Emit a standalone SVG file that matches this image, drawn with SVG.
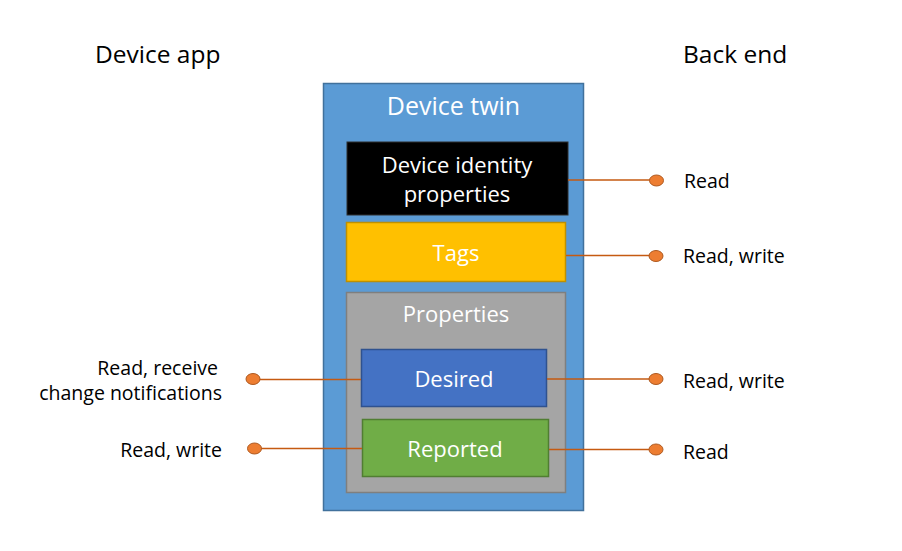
<svg xmlns="http://www.w3.org/2000/svg" width="902" height="551" viewBox="0 0 902 551">
<style>
text{font-family:"Open Sans","Noto Sans","Liberation Sans",sans-serif;}
.h{font-size:24.5px;fill:#000;}
.w{fill:#fff;text-anchor:middle;dominant-baseline:central;}
.lbl{font-size:19.5px;fill:#000;dominant-baseline:central;}
.ln{stroke:#C55A11;stroke-width:1.5;fill:none;}
.dot{fill:#ED7D31;stroke:#AE5A21;stroke-width:1;}
</style>
<rect width="902" height="551" fill="#fff"/>
<text class="h" x="95" y="63">Device app</text>
<text class="h" x="683" y="63">Back end</text>
<g id="device-twin">
<rect x="323.5" y="83.5" width="260" height="427" fill="#5B9BD5" stroke="#41719C" stroke-width="1.5"/>
<text class="w" x="453.5" y="105" font-size="25">Device twin</text>
</g>
<g id="identity">
<rect x="347" y="142" width="221" height="73" fill="#000" stroke="#2F2F2F"/>
<text class="w" x="457" y="164" font-size="22">Device identity</text>
<text class="w" x="457" y="193" font-size="22">properties</text>
</g>
<g id="tags">
<rect x="346.5" y="222.5" width="219" height="59" fill="#FFC000" stroke="#BF9000" stroke-width="1.5"/>
<text class="w" x="456" y="252" font-size="22">Tags</text>
</g>
<g id="properties">
<rect x="346.5" y="292.5" width="219" height="200" fill="#A5A5A5" stroke="#7F7F7F" stroke-width="1.5"/>
<text class="w" x="456" y="313" font-size="22">Properties</text>
</g>
<g id="desired">
<rect x="361.5" y="349.5" width="185" height="57" fill="#4472C4" stroke="#2F528F" stroke-width="1.5"/>
<text class="w" x="454" y="378" font-size="22">Desired</text>
</g>
<g id="reported">
<rect x="362.5" y="419.5" width="186" height="57" fill="#70AD47" stroke="#507E32" stroke-width="1.5"/>
<text class="w" x="455" y="448" font-size="22">Reported</text>
</g>
<g id="connectors">
<line class="ln" x1="568" y1="180" x2="650" y2="180"/>
<ellipse class="dot" cx="656.5" cy="180.5" rx="7" ry="5.5"/>
<line class="ln" x1="566" y1="255.5" x2="650" y2="255.5"/>
<ellipse class="dot" cx="656" cy="256" rx="7" ry="5.5"/>
<line class="ln" x1="547" y1="379" x2="650" y2="379"/>
<ellipse class="dot" cx="656" cy="379" rx="7" ry="5.5"/>
<line class="ln" x1="549" y1="449.5" x2="650" y2="449.5"/>
<ellipse class="dot" cx="656" cy="449.5" rx="7" ry="5.5"/>
<line class="ln" x1="259" y1="379.5" x2="361" y2="379.5"/>
<ellipse class="dot" cx="253" cy="379" rx="7" ry="5.5"/>
<line class="ln" x1="260" y1="448.5" x2="362" y2="448.5"/>
<ellipse class="dot" cx="254.5" cy="448.5" rx="7" ry="5.5"/>
</g>
<g id="labels">
<text class="lbl" x="684" y="180">Read</text>
<text class="lbl" x="683" y="255">Read, write</text>
<text class="lbl" x="683" y="380">Read, write</text>
<text class="lbl" x="683" y="451">Read</text>
<text class="lbl" x="218" y="367" text-anchor="end">Read, receive</text>
<text class="lbl" x="222" y="392" text-anchor="end">change notifications</text>
<text class="lbl" x="222" y="449" text-anchor="end">Read, write</text>
</g>
</svg>
